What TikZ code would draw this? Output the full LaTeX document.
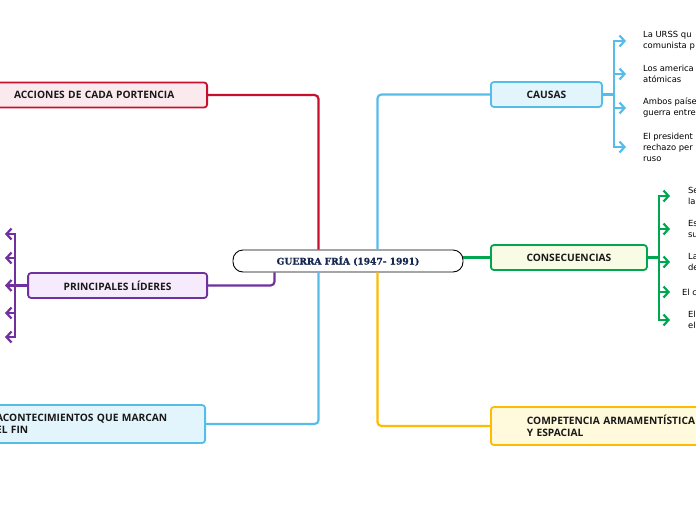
\documentclass[tikz,border=0pt]{standalone}
\usepackage{fontspec}
\setmainfont{Open Sans}
\newfontfamily\leaffont{DejaVu Sans}
\newfontfamily\rootfont{DejaVu Serif Bold}[FakeBold=1.2]
\usetikzlibrary{arrows.meta}
\definecolor{rojo}{RGB}{200,16,46}
\definecolor{celeste}{RGB}{86,189,234}
\definecolor{morado}{RGB}{112,48,160}
\definecolor{verde}{RGB}{0,166,80}
\definecolor{naranja}{RGB}{255,187,0}
\definecolor{rosa}{RGB}{250,234,238}
\definecolor{lila}{RGB}{245,235,252}
\definecolor{celesteclaro}{RGB}{226,244,252}
\definecolor{verdeclaro}{RGB}{248,252,228}
\definecolor{amarilloclaro}{RGB}{255,250,220}
\definecolor{marino}{RGB}{22,40,80}
\begin{document}
\begin{tikzpicture}
  [x=1pt,y=-1pt,every node/.style={inner sep=0pt},line width=2.2pt]
  \tikzstyle{topic} = [draw,rounded corners=3pt,line width=1.8pt,minimum height=25pt,text=black!90,font=\bfseries\fontsize{10.2}{12.5}\selectfont]
  \tikzstyle{leaf} = [anchor=west,align=left,font=\leaffont\fontsize{8.4}{11}\selectfont]
  \tikzstyle{tip} = [-{Straight Barb[length=5pt,width=11pt,line width=2.2pt]}]
  \useasboundingbox (0,0) rectangle (696,520);
  \clip (0,0) rectangle (696,520);

  \node[draw=black,fill=white,rounded corners=10pt,line width=0.9pt,minimum width=230pt,minimum height=22pt,text=marino,font=\rootfont\fontsize{9.1}{10}\selectfont] (guerra) at (348,261) {GUERRA FRÍA (1947- 1991)};

  \node[topic,draw=rojo,fill=rosa,anchor=east,inner xsep=18pt,text width=175pt,align=left] (acciones) at (208,95) {ACCIONES DE CADA PORTENCIA};
  \node[topic,draw=morado,fill=lila,anchor=east,minimum width=179pt] (lideres) at (208,285.5) {PRINCIPALES LÍDERES};
  \node[topic,draw=celeste,fill=celesteclaro,anchor=east,minimum height=38pt,inner xsep=20pt,text width=189pt,align=left] (fin) at (206,424) {ACONTECIMIENTOS QUE MARCAN\\EL FIN};
  \node[topic,draw=celeste,fill=celesteclaro,anchor=west,minimum width=111pt] (causas) at (490,94.5) {CAUSAS};
  \node[topic,draw=verde,fill=verdeclaro,anchor=west,minimum width=156pt] (consecuencias) at (490,257.5) {CONSECUENCIAS};
  \node[topic,draw=naranja,fill=amarilloclaro,anchor=west,minimum height=38pt,inner xsep=36pt,text width=190pt,align=left] (competencia) at (490,426) {COMPETENCIA ARMAMENTÍSTICA\\Y ESPACIAL};

  \draw[rojo,rounded corners=4pt] ([xshift=86pt]guerra.north west) |- (acciones);
  \draw[morado,rounded corners=4pt] ([xshift=42pt]guerra.south west) |- (lideres);
  \draw[celeste,rounded corners=4pt] ([xshift=86pt]guerra.south west) |- (fin);
  \draw[celeste,rounded corners=4pt] ([xshift=-86pt]guerra.north east) |- (causas);
  \draw[naranja,rounded corners=4pt] ([xshift=-86pt]guerra.south east) |- (competencia);
  \draw[verde] (guerra.east |- consecuencias) -- (consecuencias);

\foreach \name/\y/\txt in {c1/41/{La URSS qu\\comunista p},c2/74/{Los america\\atómicas},c2b/108/{Ambos paíse\\guerra entre},c4/147/{El president\\rechazo per\\ruso}}
  {\node[leaf] (\name) at (642,\y) {\txt};
   \draw[tip,celeste] (causas.east) -- ++(11,0) |- ([xshift=-16pt]\name.west);}
\foreach \name/\x/\y/\txt in {k1/687/196/{Se\\la},k2/687/229/{Es\\su},k3/687/262/{La\\de},k4/681/292/{El c},k5/687/320/{El\\el}}
  {\node[leaf] (\name) at (\x,\y) {\txt};
   \draw[tip,verde] (consecuencias.east) -- ++(11,0) |- ([xshift=670pt-\x pt]\name.west);}
\foreach \name/\y in {l1/234,l2/258,l3/285.5,l4/313,l5/337}
  {\coordinate (\name) at (5,\y);
   \draw[tip,morado] (lideres.west) -- ++(-12,0) |- (\name);}
\end{tikzpicture}
\end{document}
